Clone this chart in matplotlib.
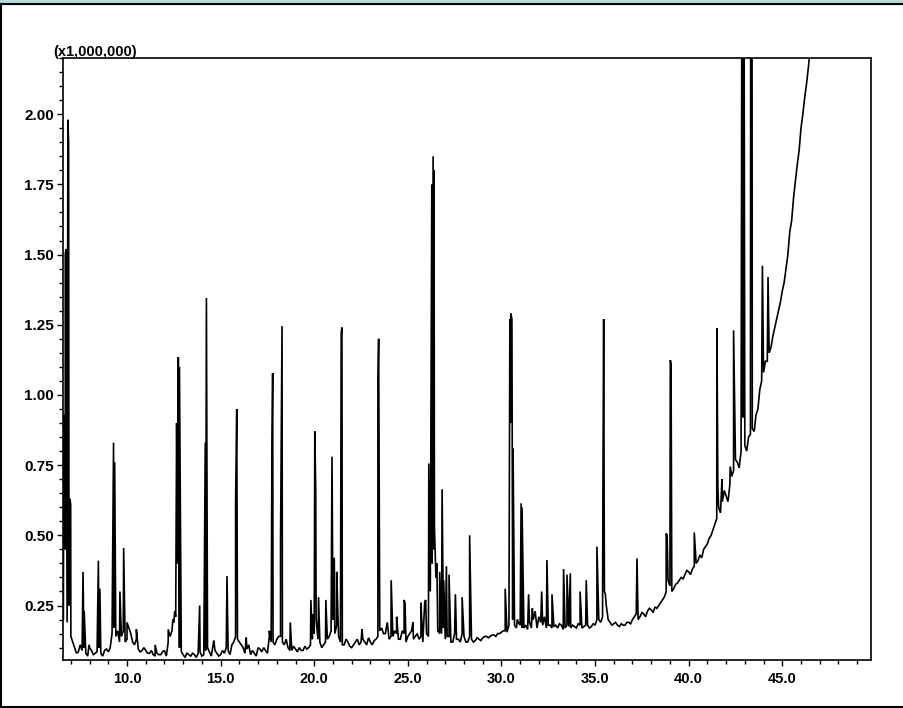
import numpy as np
import matplotlib
matplotlib.use("Agg")
import matplotlib.pyplot as plt
from matplotlib.patches import Rectangle
from matplotlib.lines import Line2D
from matplotlib.ticker import MultipleLocator, FormatStrFormatter

# ===============================
# DATA (intensity in millions)
# ===============================
# baseline trace, one reading every 0.2 min starting at 6.6 min
BASE_START = 6.6
BASE_STEP = 0.2
BASE_V = [
    0.20, 0.19, 0.14, 0.10, 0.085, 0.09, 0.08, 0.10, 0.075, 0.085,
    0.08, 0.09, 0.085, 0.15, 0.14, 0.12, 0.16, 0.13, 0.15, 0.11,
    0.095, 0.09, 0.09, 0.08, 0.075, 0.08, 0.075, 0.09, 0.12, 0.16,
    0.21, 0.10, 0.075, 0.08, 0.07, 0.075, 0.08, 0.07, 0.09, 0.085,
    0.11, 0.08, 0.075, 0.08, 0.09, 0.11, 0.14, 0.12, 0.10, 0.095,
    0.075, 0.08, 0.10, 0.085, 0.09, 0.14, 0.12, 0.13, 0.14, 0.11,
    0.10, 0.09, 0.095, 0.10, 0.09, 0.095, 0.11, 0.15, 0.13, 0.10,
    0.12, 0.14, 0.20, 0.18, 0.12, 0.11, 0.12, 0.10, 0.12, 0.11,
    0.13, 0.11, 0.12, 0.125, 0.14, 0.17, 0.15, 0.13, 0.14, 0.15,
    0.13, 0.15, 0.14, 0.16, 0.14, 0.13, 0.12, 0.15, 0.30, 0.45,
    0.16, 0.15, 0.13, 0.14, 0.12, 0.13, 0.12, 0.14, 0.12, 0.13,
    0.125, 0.13, 0.135, 0.14, 0.14, 0.145, 0.15, 0.155, 0.16, 0.18,
    0.20, 0.17, 0.18, 0.17, 0.165, 0.17, 0.23, 0.21, 0.18, 0.17,
    0.18, 0.175, 0.17, 0.18, 0.17, 0.175, 0.18, 0.17, 0.18, 0.175,
    0.18, 0.175, 0.18, 0.20, 0.21, 0.25, 0.19, 0.185, 0.18, 0.185,
    0.18, 0.19, 0.20, 0.22, 0.21, 0.22, 0.23, 0.235, 0.245, 0.25,
    0.27, 0.30, 0.32, 0.31, 0.33, 0.35, 0.36, 0.37, 0.38, 0.40,
    0.43, 0.45, 0.47, 0.50, 0.54, 0.60, 0.62, 0.64, 0.68, 0.73,
    0.76, 0.80, 0.82, 0.85, 0.88, 0.93, 1.02, 1.08, 1.12, 1.17,
    1.24, 1.30, 1.37, 1.45, 1.58, 1.70, 1.82, 1.95, 2.06, 2.17,
    2.30,
]

# in-between readings of the noisy baseline, every 0.2 min starting at 6.7 min
MID_START = 6.7
MID_V = [
    0.45, 0.25, 0.12, 0.08, 0.11, 0.10, 0.07, 0.09, 0.08, 0.10,
    0.07, 0.095, 0.10, 0.17, 0.16, 0.14, 0.12, 0.17, 0.12, 0.13,
    0.085, 0.10, 0.08, 0.09, 0.07, 0.075, 0.085, 0.07, 0.14, 0.19,
    0.40, 0.085, 0.065, 0.075, 0.08, 0.065, 0.085, 0.075, 0.10, 0.07,
    0.09, 0.07, 0.09, 0.10, 0.075, 0.12, 0.13, 0.11, 0.08, 0.11,
    0.09, 0.07, 0.095, 0.10, 0.08, 0.12, 0.11, 0.14, 0.12, 0.13,
    0.09, 0.105, 0.085, 0.09, 0.105, 0.10, 0.13, 0.20, 0.12, 0.11,
    0.13, 0.16, 0.15, 0.14, 0.11, 0.13, 0.105, 0.11, 0.13, 0.12,
    0.12, 0.135, 0.11, 0.13, 0.16, 0.15, 0.19, 0.14, 0.16, 0.13,
    0.16, 0.12, 0.15, 0.13, 0.15, 0.14, 0.26, 0.14, 0.40, 0.35,
    0.15, 0.17, 0.14, 0.12, 0.15, 0.13, 0.15, 0.12, 0.14, 0.12,
    0.135, 0.125, 0.14, 0.135, 0.145, 0.14, 0.15, 0.16, 0.155, 0.90,
    0.18, 0.19, 0.17, 0.18, 0.19, 0.20, 0.17, 0.19, 0.21, 0.18,
    0.17, 0.18, 0.185, 0.165, 0.18, 0.17, 0.175, 0.185, 0.17, 0.18,
    0.17, 0.185, 0.20, 0.19, 0.30, 0.20, 0.18, 0.19, 0.175, 0.18,
    0.19, 0.185, 0.21, 0.20, 0.225, 0.21, 0.24, 0.225, 0.24, 0.26,
    0.28, 0.34, 0.30, 0.325, 0.34, 0.345, 0.375, 0.36, 0.39, 0.41,
    0.42, 0.46, 0.49, 0.52, 0.56, 0.58, 0.66, 0.62, 0.71, 0.77,
    0.74, 0.92, 0.80, 0.86, 0.87, 0.95, 1.05, 1.12, 1.15, 1.21,
    1.27, 1.33, 1.40, 1.50, 1.62, 1.76, 1.87, 2.00, 2.11, 2.24,
]

# peak apexes (retention time, height)
PEAK_T = [
    6.62, 6.70, 6.74, 6.84, 6.88, 6.95, 6.99,
    7.65, 7.71, 7.97, 8.47, 8.55, 9.28, 9.34, 9.62, 9.82,
    10.00, 10.50, 11.50, 12.20, 12.45, 12.55, 12.65, 12.74, 12.80,
    13.88, 14.18, 14.24, 14.63, 15.34, 15.80, 15.86, 16.37,
    17.60, 17.74, 17.78, 18.20, 18.28, 18.72,
    19.82, 19.92, 20.03, 20.08, 20.23, 20.62, 20.95, 21.07, 21.20,
    21.44, 21.48, 22.55, 23.40, 23.44, 24.11, 24.40, 24.80, 24.85, 25.27,
    25.70, 25.95, 26.12, 26.28, 26.35, 26.40, 26.42, 26.55, 26.70,
    26.83, 26.90, 27.06, 27.20, 27.54, 27.90, 28.30,
    30.20, 30.45, 30.50, 30.56, 30.62, 30.85, 31.05, 31.10,
    31.45, 31.65, 32.15, 32.43, 32.70, 33.32, 33.50, 33.68, 34.20, 34.53,
    35.10, 35.42, 35.46, 35.55, 37.24, 38.80, 38.85, 39.02, 39.06,
    40.30, 41.51, 41.56, 41.78, 42.22, 42.40,
    42.88, 42.92, 43.33, 43.37, 43.94, 44.24,
]
PEAK_V = [
    0.93, 1.50, 1.52, 1.98, 1.90, 0.63, 0.61,
    0.37, 0.23, 0.11, 0.41, 0.31, 0.83, 0.76, 0.30, 0.455,
    0.19, 0.165, 0.11, 0.165, 0.20, 0.23, 0.90, 1.135, 1.10,
    0.25, 0.83, 1.345, 0.125, 0.355, 0.62, 0.95, 0.136,
    0.16, 0.82, 1.078, 0.48, 1.245, 0.19,
    0.27, 0.22, 0.87, 0.66, 0.28, 0.27, 0.78, 0.42, 0.37,
    1.22, 1.24, 0.165, 1.05, 1.20, 0.34, 0.21, 0.27, 0.26, 0.19,
    0.26, 0.27, 0.756, 1.75, 1.85, 1.80, 0.53, 0.40, 0.37,
    0.664, 0.34, 0.39, 0.36, 0.29, 0.28, 0.50,
    0.31, 1.27, 1.29, 1.27, 0.81, 0.20, 0.614, 0.60,
    0.29, 0.24, 0.30, 0.412, 0.29, 0.38, 0.36, 0.365, 0.30, 0.34,
    0.46, 0.65, 1.27, 0.29, 0.418, 0.507, 0.50, 1.124, 1.11,
    0.51, 1.237, 0.67, 0.70, 0.745, 1.23,
    4.0, 4.0, 4.0, 4.0, 1.46, 1.42,
]

X_LIM = (6.58, 49.74)
Y_LIM = (0.056, 2.20)

# ===============================
# BUILD TRACE
# ===============================
base_t = np.round(BASE_START + BASE_STEP * np.arange(len(BASE_V)), 2)
mid_t = np.round(MID_START + BASE_STEP * np.arange(len(MID_V)), 2)
t_all = np.concatenate([base_t, mid_t, np.array(PEAK_T)])
v_all = np.concatenate([np.array(BASE_V), np.array(MID_V), np.array(PEAK_V)])
order = np.argsort(t_all, kind="stable")
t_all = t_all[order]
v_all = v_all[order]

# ===============================
# PLOT
# ===============================
plt.rcParams["font.family"] = ["Liberation Sans", "DejaVu Sans"]

W, H = 904, 708
fig = plt.figure(figsize=(W / 100, H / 100), dpi=100)
ax = fig.add_axes([63 / W, 1 - 660 / H, (871 - 63) / W, (660 - 58) / H])

ax.plot(t_all, v_all, color="black", lw=1.2, solid_joinstyle="miter")

ax.set_xlim(*X_LIM)
ax.set_ylim(*Y_LIM)

ax.xaxis.set_major_locator(MultipleLocator(5))
ax.xaxis.set_minor_locator(MultipleLocator(1))
ax.yaxis.set_major_locator(MultipleLocator(0.25))
ax.yaxis.set_minor_locator(MultipleLocator(0.05))
ax.xaxis.set_major_formatter(FormatStrFormatter("%.1f"))
ax.yaxis.set_major_formatter(FormatStrFormatter("%.2f"))

ax.tick_params(which="major", direction="out", length=4.5, width=1.0, pad=2)
ax.tick_params(which="minor", direction="out", length=3.0, width=1.0)
ax.tick_params(axis="x", which="major", labelsize=10.5, pad=4)
ax.tick_params(axis="y", which="major", labelsize=11)
for lbl in ax.get_xticklabels() + ax.get_yticklabels():
    lbl.set_fontweight("bold")

for sp in ax.spines.values():
    sp.set_linewidth(1.2)

fig.text(53 / W, 1 - 52 / H, "(x1,000,000)", fontsize=10.5, fontweight="bold",
         ha="left", va="center")

# window frame: light teal strip on top, black border lines
fig.add_artist(Rectangle((0, 1 - 3 / H), 1, 3 / H, transform=fig.transFigure,
                         color="#b3dcdc", lw=0))
fig.add_artist(Line2D([0, 1], [1 - 4 / H, 1 - 4 / H], transform=fig.transFigure,
                      color="black", lw=1.5))
fig.add_artist(Line2D([0.5 / W, 0.5 / W], [0, 1 - 4 / H], transform=fig.transFigure,
                      color="black", lw=1.5))
fig.add_artist(Line2D([0, 1], [1 / H, 1 / H], transform=fig.transFigure,
                      color="black", lw=1.5))

fig.savefig("out.png", dpi=100)
